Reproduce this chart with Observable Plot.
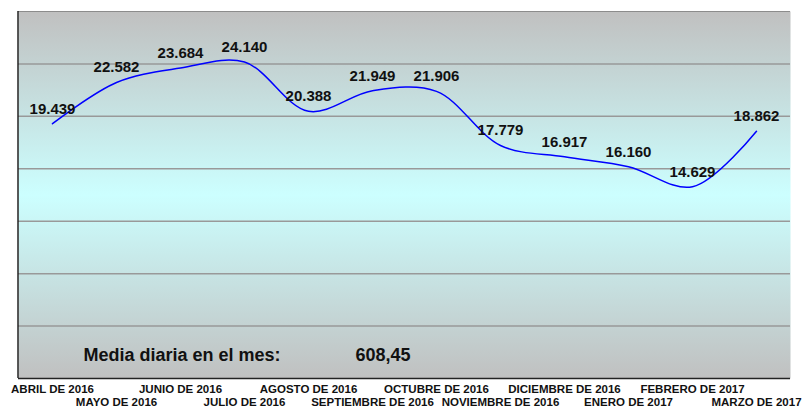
<!DOCTYPE html>
<html>
<head>
<meta charset="utf-8">
<script src="https://cdn.jsdelivr.net/npm/d3@7"></script>
<script src="https://cdn.jsdelivr.net/npm/@observablehq/plot@0.6"></script>
<style>
  html, body { margin: 0; padding: 0; background: #ffffff; }
  #chart svg { display: block; font-family: "Liberation Sans", Arial, sans-serif; }
</style>
</head>
<body>
<div id="chart"></div>
<script>
const months = [
  "ABRIL DE 2016", "MAYO DE 2016", "JUNIO DE 2016", "JULIO DE 2016",
  "AGOSTO DE 2016", "SEPTIEMBRE DE 2016", "OCTUBRE DE 2016", "NOVIEMBRE DE 2016",
  "DICIEMBRE DE 2016", "ENERO DE 2017", "FEBRERO DE 2017", "MARZO DE 2017"
];
const values = [19439, 22582, 23684, 24140, 20388, 21949, 21906, 17779, 16917, 16160, 14629, 18862];
const yTicks = [4000, 8000, 12000, 16000, 20000, 24000];
const summaryLabel = "Media diaria en el mes:";
const summaryValue = "608,45";

const esFormat = d3.formatLocale({decimal: ",", thousands: ".", grouping: [3], currency: ["", "€"]}).format(",d");
const data = months.map((m, i) => ({month: m, value: values[i]}));
const rowTop = months.filter((d, i) => i % 2 === 0);
const rowBottom = months.filter((d, i) => i % 2 === 1);

const decor = (index, scales, values, dimensions) => {
  const ns = "http://www.w3.org/2000/svg";
  const g = document.createElementNS(ns, "g");
  g.innerHTML = `<defs><linearGradient id="bgGrad" x1="0" y1="0" x2="0" y2="1">
      <stop offset="0" stop-color="#c0c0c0"/>
      <stop offset="0.5" stop-color="#ccffff"/>
      <stop offset="1" stop-color="#c0c0c0"/>
    </linearGradient></defs>`;
  return g;
};

const leftBorder = (index, scales, values, dimensions) => {
  const ns = "http://www.w3.org/2000/svg";
  const {marginLeft, marginTop, height, marginBottom} = dimensions;
  const line = document.createElementNS(ns, "line");
  line.setAttribute("x1", marginLeft);
  line.setAttribute("x2", marginLeft);
  line.setAttribute("y1", marginTop);
  line.setAttribute("y2", height - marginBottom);
  line.setAttribute("stroke", "#222");
  line.setAttribute("stroke-width", 1.5);
  return line;
};

const chart = Plot.plot({
  width: 803,
  height: 407,
  marginLeft: 18,
  marginRight: 13,
  marginTop: 11,
  marginBottom: 29,
  style: {fontFamily: "'Liberation Sans', Arial, sans-serif", background: "#ffffff", overflow: "visible"},
  x: {type: "point", domain: months, padding: 0.5, axis: null},
  y: {domain: [0, 28000], axis: null},
  marks: [
    decor,
    Plot.frame({fill: "url(#bgGrad)", stroke: "none"}),
    Plot.ruleY(yTicks, {stroke: "#999999", strokeWidth: 1.5}),
    Plot.ruleY([28000], {stroke: "#8c8c8c", strokeWidth: 1}),
    Plot.ruleY([0], {stroke: "#222222", strokeWidth: 1.5}),
    leftBorder,
    Plot.line(data, {x: "month", y: "value", stroke: "#0000ff", strokeWidth: 1.5, curve: "catmull-rom"}),
    Plot.text(data, {x: "month", y: "value", text: d => esFormat(d.value), dy: -15,
      fontSize: 15, fontWeight: "bold", fill: "#111"}),
    Plot.text([summaryLabel], {frameAnchor: "bottom-left", textAnchor: "start", dx: 65, dy: -18,
      fontSize: 18, fontWeight: "bold", fill: "#111"}),
    Plot.text([summaryValue], {frameAnchor: "bottom-left", textAnchor: "start", dx: 337, dy: -18,
      fontSize: 18, fontWeight: "bold", fill: "#111"}),
    Plot.axisX({ticks: rowTop, tickSize: 0, tickPadding: 6, fontSize: 11.5, fontWeight: "bold", label: null, fill: "#111"}),
    Plot.axisX({ticks: rowBottom, tickSize: 0, tickPadding: 19, fontSize: 11.5, fontWeight: "bold", label: null, fill: "#111"})
  ]
});
document.getElementById("chart").appendChild(chart);
</script>
</body>
</html>
